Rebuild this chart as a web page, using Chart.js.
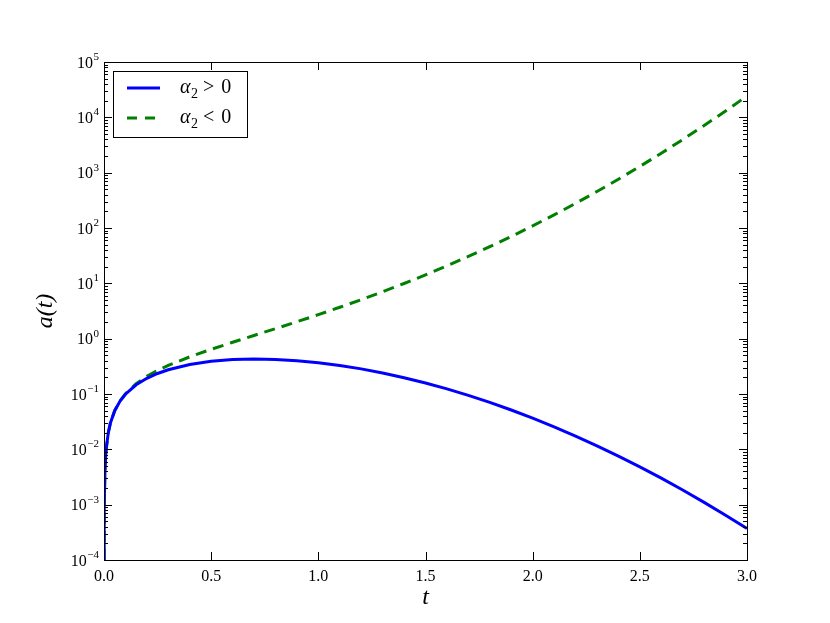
<!DOCTYPE html>
<html>
<head>
<meta charset="utf-8">
<script src="https://cdn.jsdelivr.net/npm/chart.js@4"></script>
<style>
html,body{margin:0;padding:0;background:#fff;}
#wrap{width:830px;height:623px;}
</style>
</head>
<body>
<div id="wrap"><canvas id="c" width="830" height="623"></canvas></div>
<script>
const tValues = [0.0001, 0.001, 0.005, 0.01, 0.02, 0.03, 0.05, 0.075, 0.1, 0.15, 0.2, 0.25, 0.3, 0.4, 0.5, 0.6, 0.7, 0.8, 0.9, 1.0, 1.1, 1.2, 1.3, 1.4, 1.5, 1.6, 1.7, 1.8, 1.9, 2.0, 2.1, 2.2, 2.3, 2.4, 2.5, 2.6, 2.7, 2.8, 2.9, 3.0];
const aPositive = [0.0001, 0.001, 0.005, 0.01, 0.02, 0.03, 0.0499, 0.0746, 0.099, 0.1467, 0.1922, 0.2349, 0.2742, 0.3409, 0.3894, 0.4186, 0.4288, 0.4218, 0.4003, 0.3679, 0.328, 0.2843, 0.2399, 0.1972, 0.1581, 0.1237, 0.0945, 0.0705, 0.0514, 0.0366, 0.0255, 0.0174, 0.0116, 0.00756, 0.00483, 0.00301, 0.00184, 0.00110, 0.000645, 0.00037];
const aNegative = [0.0001, 0.001, 0.005, 0.01, 0.02, 0.03, 0.0501, 0.0754, 0.101, 0.1534, 0.2082, 0.2661, 0.3283, 0.4694, 0.642, 0.860, 1.143, 1.517, 2.023, 2.718, 3.69, 5.07, 7.04, 9.94, 14.2, 20.7, 30.6, 46.0, 70.2, 109.2, 172.8, 278, 456, 762, 1295, 2243, 3958, 7115, 13025, 24309];
const seriesLabels = ['α₂ > 0', 'α₂ < 0'];
const xTickValues = [0, 0.5, 1.0, 1.5, 2.0, 2.5, 3.0];
const xTickLabels = ['0.0', '0.5', '1.0', '1.5', '2.0', '2.5', '3.0'];
const yTickValues = [1e-4, 1e-3, 1e-2, 1e-1, 1e0, 1e1, 1e2, 1e3, 1e4, 1e5];
const yTickBases = ['10', '10', '10', '10', '10', '10', '10', '10', '10', '10'];
const yTickExponents = ['−4', '−3', '−2', '−1', '0', '1', '2', '3', '4', '5'];

const SERIF = '"Liberation Serif", "DejaVu Serif", serif';

const framePlugin = {
  id: 'frame',
  afterDatasetsDraw(chart) {
    const {ctx, chartArea: {left, right, top, bottom}, scales: {x, y}} = chart;
    ctx.save();
    ctx.strokeStyle = '#000';
    ctx.lineWidth = 1;
    const line = (x1, y1, x2, y2) => { ctx.beginPath(); ctx.moveTo(x1, y1); ctx.lineTo(x2, y2); ctx.stroke(); };
    xTickValues.forEach(v => {
      const px = Math.round(x.getPixelForValue(v)) + 0.5;
      line(px, bottom, px, bottom - 8);
      line(px, top, px, top + 8);
    });
    yTickValues.forEach(v => {
      const py = Math.round(y.getPixelForValue(v)) + 0.5;
      line(left, py, left + 8, py);
      line(right, py, right - 8, py);
    });
    for (let k = -4; k < 5; k++) {
      for (let m = 2; m <= 9; m++) {
        const py = Math.round(y.getPixelForValue(m * Math.pow(10, k))) + 0.5;
        line(left, py, left + 4, py);
        line(right, py, right - 4, py);
      }
    }
    ctx.strokeRect(Math.round(left) + 0.5, Math.round(top) + 0.5, Math.round(right - left), Math.round(bottom - top));

    // y tick labels: 10 with superscript exponent
    ctx.fillStyle = '#000';
    ctx.textBaseline = 'alphabetic';
    ctx.textAlign = 'left';
    yTickValues.forEach((v, i) => {
      const py = y.getPixelForValue(v);
      ctx.font = '11px ' + SERIF;
      const ew = ctx.measureText(yTickExponents[i]).width;
      ctx.font = '16px ' + SERIF;
      const bw = ctx.measureText(yTickBases[i]).width;
      const xr = 99;
      const xb = xr - ew - bw - 0.5;
      ctx.fillText(yTickBases[i], xb, py + 5.5);
      ctx.font = '11px ' + SERIF;
      ctx.fillText(yTickExponents[i], xb + bw + 0.5, py - 2);
    });

    // legend
    const bx = 113.5, by = 71.5, bw = 134, bh = 66;
    ctx.fillStyle = '#fff';
    ctx.fillRect(bx, by, bw, bh);
    ctx.strokeRect(bx, by, bw, bh);
    const rows = [88, 118];
    chart.data.datasets.forEach((ds, i) => {
      const yy = rows[i];
      ctx.save();
      ctx.strokeStyle = ds.borderColor;
      ctx.lineWidth = 3;
      ctx.setLineDash([10, 8]);
      if (!ds.borderDash) ctx.setLineDash([]);
      line(127, yy, 160, yy);
      ctx.restore();
      const lbl = ds.label;
      ctx.fillStyle = '#000';
      ctx.textBaseline = 'alphabetic';
      ctx.textAlign = 'left';
      let tx = 180;
      const base = yy + 5;
      ctx.font = 'italic 20px ' + SERIF;
      ctx.fillText(lbl[0], tx, base);
      tx += ctx.measureText(lbl[0]).width + 0.5;
      ctx.font = '14px ' + SERIF;
      ctx.fillText('2', tx, base + 5);
      tx += ctx.measureText('2').width + 5;
      ctx.font = '20px ' + SERIF;
      const parts = lbl.slice(2).trim().split(' ');
      ctx.fillText(parts[0], tx, base);
      tx += ctx.measureText(parts[0]).width + 7;
      ctx.fillText(parts[1], tx, base);
    });
    ctx.restore();
  }
};

new Chart(document.getElementById('c'), {
  type: 'line',
  data: {
    datasets: [
      {
        label: seriesLabels[0],
        data: tValues.map((t, i) => ({x: t, y: aPositive[i]})),
        borderColor: '#0000ff',
        borderWidth: 3,
        pointRadius: 0,
        fill: false,
        tension: 0
      },
      {
        label: seriesLabels[1],
        data: tValues.map((t, i) => ({x: t, y: aNegative[i]})),
        borderColor: '#008000',
        borderWidth: 3,
        borderDash: [11, 7],
        pointRadius: 0,
        fill: false,
        tension: 0
      }
    ]
  },
  options: {
    responsive: false,
    animation: false,
    layout: {padding: {left: 0, right: 83, top: 62, bottom: 0}},
    plugins: {legend: {display: false}, tooltip: {enabled: false}},
    scales: {
      x: {
        type: 'linear',
        min: 0, max: 3,
        grid: {display: false, drawTicks: false},
        border: {display: false},
        afterBuildTicks(s) { s.ticks = xTickValues.map(v => ({value: v})); },
        afterFit(s) { s.height = 63; },
        ticks: {
          color: '#000',
          font: {family: SERIF, size: 16},
          padding: 7,
          maxRotation: 0,
          callback: (v) => xTickLabels[xTickValues.indexOf(v)]
        },
        title: {display: true, text: 't', color: '#000', font: {family: SERIF, size: 24, style: 'italic'}, padding: {top: 0, bottom: 11}}
      },
      y: {
        type: 'logarithmic',
        min: 1e-4, max: 1e5,
        grid: {display: false, drawTicks: false},
        border: {display: false},
        afterBuildTicks(s) { s.ticks = yTickValues.map(v => ({value: v})); },
        afterFit(s) { s.width = 104; },
        ticks: {display: false},
        title: {display: true, text: 'a(t)', color: '#000', font: {family: SERIF, size: 24, style: 'italic'}, padding: {top: 31, bottom: 0}}
      }
    }
  },
  plugins: [framePlugin]
});
</script>
</body>
</html>
